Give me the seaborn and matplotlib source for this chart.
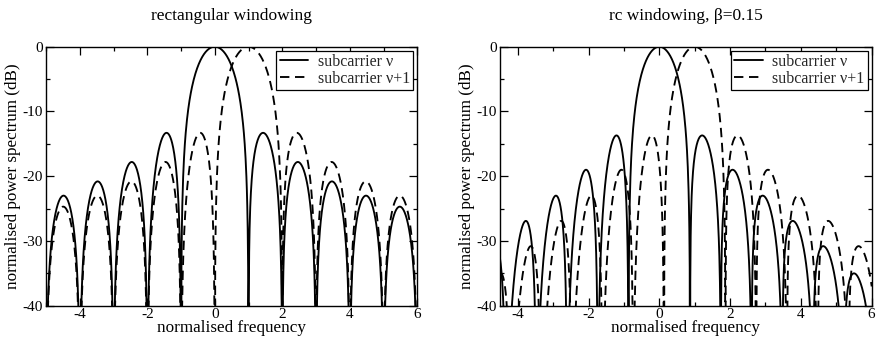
import numpy as np
import pandas as pd
import matplotlib
matplotlib.use("Agg")
import matplotlib.pyplot as plt
from matplotlib.ticker import MultipleLocator
import seaborn as sns

# ---------------- data ----------------
# rectangular windowing: zero positions, lobe peak frequencies and levels (dB)
rect_nu_zeros = [-5, -4, -3, -2, -1, 1, 2, 3, 4, 5, 6]
rect_nu_peak_f = [-4.48, -3.47, -2.46, -1.43, 0.0, 1.43, 2.46, 3.47, 4.48, 5.48]
rect_nu_peak_db = [-23.0, -20.8, -17.8, -13.3, 0.0, -13.3, -17.8, -20.8, -23.0, -24.7]

rect_nu1_zeros = [-5, -4, -3, -2, -1, 0, 2, 3, 4, 5, 6]
rect_nu1_peak_f = [-4.49, -3.48, -2.47, -1.46, -0.43, 1.0, 2.43, 3.46, 4.47, 5.48]
rect_nu1_peak_db = [-24.7, -23.0, -20.8, -17.8, -13.3, 0.0, -13.3, -17.8, -20.8, -23.0]

# rc windowing, beta = 0.15
rc_nu_zeros = [-5.22, -4.35, -3.48, -2.61, -1.74, -0.87, 0.87, 1.74, 2.61, 3.48, 4.35, 5.22, 6.09]
rc_nu_peak_f = [-4.63, -3.77, -2.92, -2.07, -1.21, 0.0, 1.21, 2.07, 2.92, 3.77, 4.63, 5.5]
rc_nu_peak_db = [-30.6, -26.9, -23.0, -19.0, -13.7, 0.0, -13.7, -19.0, -23.0, -26.9, -30.8, -35.0]

rc_nu1_zeros = [-5.09, -4.22, -3.35, -2.48, -1.61, -0.74, 0.13, 1.87, 2.74, 3.61, 4.48, 5.35, 6.22]
rc_nu1_peak_f = [-4.48, -3.63, -2.77, -1.92, -1.07, -0.21, 1.0, 2.21, 3.07, 3.92, 4.77, 5.63]
rc_nu1_peak_db = [-35.0, -30.8, -26.9, -23.0, -19.0, -13.7, 0.0, -13.7, -19.0, -23.0, -26.9, -30.8]

labels = ["subcarrier \u03bd", "subcarrier \u03bd+1"]
titles = ["rectangular windowing", "rc windowing, \u03b2=0.15"]
xlims = [(-5, 6), (-4.5, 6)]


def lobe_curve(zeros, peak_f, peak_db, n=160):
    """Draw each lobe as an arch between its zeros, peaking at the read peak."""
    xs, ys = [], []
    for i in range(len(peak_f)):
        a, b = zeros[i], zeros[i + 1]
        p, L = peak_f[i], peak_db[i]
        x = np.linspace(a, b, n)
        u = (x - a) / (b - a)
        g = np.log(0.5) / np.log((p - a) / (b - a))
        s = np.sin(np.pi * np.clip(u, 0, 1) ** g)
        y = L + 20 * np.log10(np.maximum(s, 1e-4))
        if i > 0:
            x, y = x[1:], y[1:]
        xs.append(x)
        ys.append(y)
    return np.concatenate(xs), np.concatenate(ys)


panels = [
    [(rect_nu_zeros, rect_nu_peak_f, rect_nu_peak_db), (rect_nu1_zeros, rect_nu1_peak_f, rect_nu1_peak_db)],
    [(rc_nu_zeros, rc_nu_peak_f, rc_nu_peak_db), (rc_nu1_zeros, rc_nu1_peak_f, rc_nu1_peak_db)],
]

sns.set_theme(style="ticks")
plt.rcParams["font.family"] = ["Liberation Serif", "DejaVu Serif"]
plt.rcParams["axes.unicode_minus"] = False

fig = plt.figure(figsize=(8.78, 3.39), dpi=100)
positions = [[0.0524, 0.0982, 0.4229, 0.764], [0.5695, 0.0982, 0.4233, 0.764]]

for k, (pos, curves) in enumerate(zip(positions, panels)):
    ax = fig.add_axes(pos)
    frames = []
    for lab, (z, pf, pdb) in zip(labels, curves):
        x, y = lobe_curve(z, pf, pdb)
        frames.append(pd.DataFrame({"f": x, "dB": y, "curve": lab}))
    df = pd.concat(frames, ignore_index=True)
    sns.lineplot(data=df, x="f", y="dB", style="curve", style_order=labels,
                 dashes={labels[0]: "", labels[1]: (5, 3)},
                 color="black", sort=False, estimator=None, lw=1.35,
                 legend=False, ax=ax)
    ax.set_xlim(*xlims[k])
    ax.set_ylim(-40, 0)
    ax.xaxis.set_major_locator(MultipleLocator(2))
    ax.xaxis.set_minor_locator(MultipleLocator(1))
    ax.yaxis.set_major_locator(MultipleLocator(10))
    ax.yaxis.set_minor_locator(MultipleLocator(5))
    ax.tick_params(which="both", direction="in", top=True, right=True,
                   colors="black", labelsize=11, width=0.9, pad=2)
    ax.tick_params(which="major", length=6)
    ax.tick_params(which="minor", length=3)
    for sp in ax.spines.values():
        sp.set_visible(True)
        sp.set_color("black")
        sp.set_linewidth(1.0)
    ax.set_xlabel("normalised frequency", fontsize=12.3, labelpad=-1, color="black")
    ax.set_ylabel("normalised power spectrum (dB)", fontsize=12.3, labelpad=1, color="black")
    ax.set_title(titles[k], fontsize=12.5, pad=19, color="black")
    handles = ax.get_lines()[:2]
    leg = ax.legend(handles, labels, loc="upper right", fontsize=11.5,
                    frameon=True, fancybox=False, framealpha=1,
                    edgecolor="black", borderpad=0.2, handlelength=1.8,
                    handletextpad=0.6, labelspacing=0.05,
                    borderaxespad=0.25)
    leg.get_frame().set_linewidth(0.9)

fig.savefig("out.png", dpi=100)
